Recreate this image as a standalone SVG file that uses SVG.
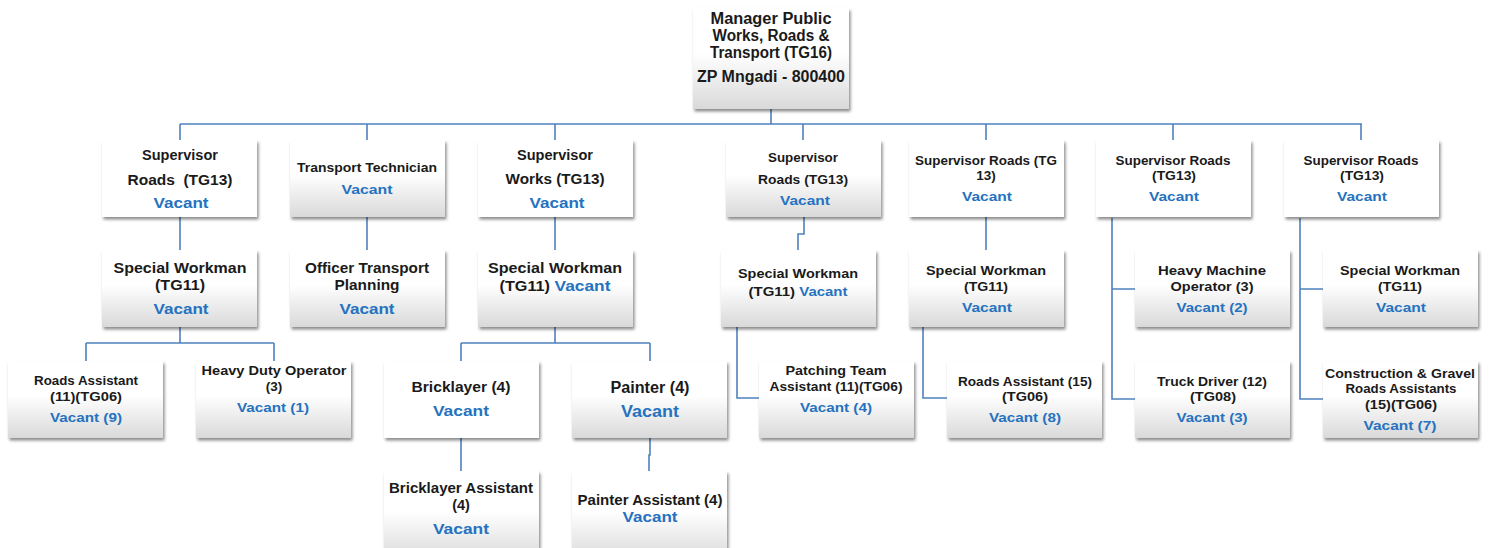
<svg xmlns="http://www.w3.org/2000/svg" width="1489" height="548" viewBox="0 0 1489 548">
  <defs>
    <linearGradient id="fade" x1="0" y1="0" x2="0" y2="1">
      <stop offset="0" stop-color="#ffffff"/>
      <stop offset="0.45" stop-color="#ffffff"/>
      <stop offset="1" stop-color="#d9d9d9"/>
    </linearGradient>
    <filter id="shadow" x="-10%" y="-10%" width="125%" height="135%">
      <feDropShadow dx="1.5" dy="2.5" stdDeviation="1.8" flood-color="#000" flood-opacity="0.45"/>
    </filter>
    <style>
      .box { fill: url(#fade); filter: url(#shadow); }
      .plain { fill: #ffffff; filter: url(#shadow); }
      text { font-family: "Liberation Sans", Arial, sans-serif; font-weight: bold; text-anchor: middle; font-size: 14.5px; fill: #1a1a1a; }
      .vac { fill: #2572c0; font-size: 15.5px; }
      .big { font-size: 16px; }
      .sm { font-size: 13.5px; }
      .link { fill: none; stroke: #4f81bd; stroke-width: 1.6; }
    </style>
  </defs>
  <rect width="1489" height="548" fill="#ffffff"/>

  <!-- connectors -->
  <g id="connectors">
    <path class="link" d="M771 109V124M180 124H1362M180 124V140M367 124V140M555 124V140M803 124V140M986 124V140M1173 124V140M1361 124V140"/>
    <path class="link" d="M180 217V250M180 327V343M86 343H274M86 343V361M274 343V361"/>
    <path class="link" d="M367 217V250"/>
    <path class="link" d="M555 217V250M555 327V343M461 343H650M461 343V361M650 343V361"/>
    <path class="link" d="M461 438V471M650 438V455H649V471"/>
    <path class="link" d="M804 217V234H798V250M737 327V398H759"/>
    <path class="link" d="M986 217V250M923 327V398H947"/>
    <path class="link" d="M1112 218V399H1135M1112 289H1135"/>
    <path class="link" d="M1300 218V399H1323M1300 289H1323"/>
  </g>

  <!-- top -->
  <g id="manager">
    <rect class="box" x="693" y="8" width="156" height="101"/>
    <text class="big" x="771" y="24" textLength="121" lengthAdjust="spacingAndGlyphs">Manager Public</text>
    <text class="big" x="771" y="41" textLength="117" lengthAdjust="spacingAndGlyphs">Works, Roads &amp;</text>
    <text class="big" x="771" y="58" textLength="122" lengthAdjust="spacingAndGlyphs">Transport (TG16)</text>
    <text class="big" x="771" y="82" textLength="148" lengthAdjust="spacingAndGlyphs">ZP Mngadi - 800400</text>
  </g>

  <!-- row 1 -->
  <g id="sup-roads-1">
    <rect class="plain" x="102" y="140" width="155" height="77"/>
    <text x="180" y="160" textLength="76" lengthAdjust="spacingAndGlyphs">Supervisor</text>
    <text x="180" y="185" textLength="105" lengthAdjust="spacingAndGlyphs">Roads&#160; (TG13)</text>
    <text class="vac" x="181" y="208" textLength="55" lengthAdjust="spacingAndGlyphs">Vacant</text>
  </g>
  <g id="transport-tech">
    <rect class="box" x="290" y="140" width="155" height="77"/>
    <text class="sm" x="367" y="172" textLength="140" lengthAdjust="spacingAndGlyphs">Transport Technician</text>
    <text class="vac sm" x="367" y="194" textLength="51" lengthAdjust="spacingAndGlyphs">Vacant</text>
  </g>
  <g id="sup-works">
    <rect class="plain" x="478" y="140" width="155" height="77"/>
    <text x="555" y="160" textLength="76" lengthAdjust="spacingAndGlyphs">Supervisor</text>
    <text x="555" y="184" textLength="99" lengthAdjust="spacingAndGlyphs">Works (TG13)</text>
    <text class="vac" x="557" y="208" textLength="55" lengthAdjust="spacingAndGlyphs">Vacant</text>
  </g>
  <g id="sup-roads-2">
    <rect class="box" x="726" y="140" width="155" height="77"/>
    <text class="sm" x="803" y="162" textLength="70" lengthAdjust="spacingAndGlyphs">Supervisor</text>
    <text class="sm" x="803" y="184" textLength="90" lengthAdjust="spacingAndGlyphs">Roads (TG13)</text>
    <text class="vac sm" x="805" y="205" textLength="50" lengthAdjust="spacingAndGlyphs">Vacant</text>
  </g>
  <g id="sup-roads-3">
    <rect class="plain" x="909" y="140" width="155" height="77"/>
    <text class="sm" x="986" y="165" textLength="142" lengthAdjust="spacingAndGlyphs">Supervisor Roads (TG</text>
    <text class="sm" x="986" y="180">13)</text>
    <text class="vac sm" x="987" y="201" textLength="50" lengthAdjust="spacingAndGlyphs">Vacant</text>
  </g>
  <g id="sup-roads-4">
    <rect class="plain" x="1096" y="140" width="155" height="77"/>
    <text class="sm" x="1173" y="165" textLength="115" lengthAdjust="spacingAndGlyphs">Supervisor Roads</text>
    <text class="sm" x="1174" y="180" textLength="44" lengthAdjust="spacingAndGlyphs">(TG13)</text>
    <text class="vac sm" x="1174" y="201" textLength="50" lengthAdjust="spacingAndGlyphs">Vacant</text>
  </g>
  <g id="sup-roads-5">
    <rect class="plain" x="1284" y="140" width="155" height="77"/>
    <text class="sm" x="1361" y="165" textLength="115" lengthAdjust="spacingAndGlyphs">Supervisor Roads</text>
    <text class="sm" x="1362" y="180" textLength="44" lengthAdjust="spacingAndGlyphs">(TG13)</text>
    <text class="vac sm" x="1362" y="201" textLength="50" lengthAdjust="spacingAndGlyphs">Vacant</text>
  </g>

  <!-- row 2 -->
  <g id="special-workman-1">
    <rect class="box" x="102" y="250" width="155" height="77"/>
    <text x="180" y="273" textLength="133" lengthAdjust="spacingAndGlyphs">Special Workman</text>
    <text x="180" y="290" textLength="50" lengthAdjust="spacingAndGlyphs">(TG11)</text>
    <text class="vac" x="181" y="314" textLength="55" lengthAdjust="spacingAndGlyphs">Vacant</text>
  </g>
  <g id="officer-transport">
    <rect class="box" x="290" y="250" width="155" height="77"/>
    <text x="367" y="273" textLength="124" lengthAdjust="spacingAndGlyphs">Officer Transport</text>
    <text x="367" y="290" textLength="65" lengthAdjust="spacingAndGlyphs">Planning</text>
    <text class="vac" x="367" y="314" textLength="55" lengthAdjust="spacingAndGlyphs">Vacant</text>
  </g>
  <g id="special-workman-2">
    <rect class="box" x="478" y="250" width="155" height="77"/>
    <text x="555" y="273" textLength="134" lengthAdjust="spacingAndGlyphs">Special Workman</text>
    <text x="555" y="291" textLength="111" lengthAdjust="spacingAndGlyphs">(TG11) <tspan class="vac">Vacant</tspan></text>
  </g>
  <g id="special-workman-3">
    <rect class="box" x="721" y="250" width="155" height="77"/>
    <text class="sm" x="798" y="278" textLength="120" lengthAdjust="spacingAndGlyphs">Special Workman</text>
    <text class="sm" x="798" y="296" textLength="99" lengthAdjust="spacingAndGlyphs">(TG11) <tspan class="vac sm">Vacant</tspan></text>
  </g>
  <g id="special-workman-4">
    <rect class="box" x="909" y="250" width="155" height="77"/>
    <text class="sm" x="986" y="275" textLength="120" lengthAdjust="spacingAndGlyphs">Special Workman</text>
    <text class="sm" x="986" y="291" textLength="44" lengthAdjust="spacingAndGlyphs">(TG11)</text>
    <text class="vac sm" x="987" y="312" textLength="50" lengthAdjust="spacingAndGlyphs">Vacant</text>
  </g>
  <g id="heavy-machine">
    <rect class="box" x="1135" y="250" width="155" height="77"/>
    <text class="sm" x="1212" y="275" textLength="108" lengthAdjust="spacingAndGlyphs">Heavy Machine</text>
    <text class="sm" x="1212" y="291" textLength="83" lengthAdjust="spacingAndGlyphs">Operator (3)</text>
    <text class="vac sm" x="1212" y="312" textLength="71" lengthAdjust="spacingAndGlyphs">Vacant (2)</text>
  </g>
  <g id="special-workman-5">
    <rect class="box" x="1323" y="250" width="155" height="77"/>
    <text class="sm" x="1400" y="275" textLength="120" lengthAdjust="spacingAndGlyphs">Special Workman</text>
    <text class="sm" x="1400" y="291" textLength="44" lengthAdjust="spacingAndGlyphs">(TG11)</text>
    <text class="vac sm" x="1401" y="312" textLength="50" lengthAdjust="spacingAndGlyphs">Vacant</text>
  </g>

  <!-- row 3 -->
  <g id="roads-assistant-1">
    <rect class="box" x="8" y="361" width="155" height="77"/>
    <text class="sm" x="86" y="385" textLength="104" lengthAdjust="spacingAndGlyphs">Roads Assistant</text>
    <text class="sm" x="86" y="401" textLength="72" lengthAdjust="spacingAndGlyphs">(11)(TG06)</text>
    <text class="vac sm" x="86" y="422" textLength="72" lengthAdjust="spacingAndGlyphs">Vacant (9)</text>
  </g>
  <g id="heavy-duty">
    <rect class="box" x="196" y="361" width="155" height="77"/>
    <text class="sm" x="274" y="375" textLength="145" lengthAdjust="spacingAndGlyphs">Heavy Duty Operator</text>
    <text class="sm" x="274" y="391">(3)</text>
    <text class="vac sm" x="273" y="412" textLength="72" lengthAdjust="spacingAndGlyphs">Vacant (1)</text>
  </g>
  <g id="bricklayer">
    <rect class="plain" x="384" y="361" width="155" height="77"/>
    <text x="461" y="392" textLength="99" lengthAdjust="spacingAndGlyphs">Bricklayer (4)</text>
    <text class="vac" x="461" y="416" textLength="56" lengthAdjust="spacingAndGlyphs">Vacant</text>
  </g>
  <g id="painter">
    <rect class="box" x="572" y="361" width="155" height="77"/>
    <text class="big" x="650" y="393" textLength="79" lengthAdjust="spacingAndGlyphs">Painter (4)</text>
    <text class="vac big" x="650" y="417" textLength="58" lengthAdjust="spacingAndGlyphs">Vacant</text>
  </g>
  <g id="patching-team">
    <rect class="box" x="759" y="361" width="155" height="77"/>
    <text class="sm" x="836" y="375" textLength="101" lengthAdjust="spacingAndGlyphs">Patching Team</text>
    <text class="sm" x="836" y="391" textLength="133" lengthAdjust="spacingAndGlyphs">Assistant (11)(TG06)</text>
    <text class="vac sm" x="836" y="412" textLength="72" lengthAdjust="spacingAndGlyphs">Vacant (4)</text>
  </g>
  <g id="roads-assistant-2">
    <rect class="box" x="947" y="361" width="155" height="77"/>
    <text class="sm" x="1025" y="386" textLength="134" lengthAdjust="spacingAndGlyphs">Roads Assistant (15)</text>
    <text class="sm" x="1025" y="401" textLength="46" lengthAdjust="spacingAndGlyphs">(TG06)</text>
    <text class="vac sm" x="1025" y="422" textLength="72" lengthAdjust="spacingAndGlyphs">Vacant (8)</text>
  </g>
  <g id="truck-driver">
    <rect class="box" x="1135" y="361" width="155" height="77"/>
    <text class="sm" x="1212" y="386" textLength="110" lengthAdjust="spacingAndGlyphs">Truck Driver (12)</text>
    <text class="sm" x="1213" y="401" textLength="46" lengthAdjust="spacingAndGlyphs">(TG08)</text>
    <text class="vac sm" x="1212" y="422" textLength="71" lengthAdjust="spacingAndGlyphs">Vacant (3)</text>
  </g>
  <g id="gravel-roads">
    <rect class="box" x="1323" y="361" width="155" height="77"/>
    <text class="sm" x="1400" y="378" textLength="150" lengthAdjust="spacingAndGlyphs">Construction &amp; Gravel</text>
    <text class="sm" x="1401" y="393" textLength="111" lengthAdjust="spacingAndGlyphs">Roads Assistants</text>
    <text class="sm" x="1401" y="409" textLength="72" lengthAdjust="spacingAndGlyphs">(15)(TG06)</text>
    <text class="vac sm" x="1400" y="430" textLength="73" lengthAdjust="spacingAndGlyphs">Vacant (7)</text>
  </g>

  <!-- row 4 -->
  <g id="bricklayer-assistant">
    <rect class="box" x="384" y="471" width="155" height="90"/>
    <text x="461" y="493" textLength="144" lengthAdjust="spacingAndGlyphs">Bricklayer Assistant</text>
    <text x="461" y="510">(4)</text>
    <text class="vac" x="461" y="534" textLength="56" lengthAdjust="spacingAndGlyphs">Vacant</text>
  </g>
  <g id="painter-assistant">
    <rect class="box" x="572" y="471" width="155" height="90"/>
    <text x="650" y="505" textLength="145" lengthAdjust="spacingAndGlyphs">Painter Assistant (4)</text>
    <text class="vac" x="650" y="522" textLength="55" lengthAdjust="spacingAndGlyphs">Vacant</text>
  </g>
</svg>
